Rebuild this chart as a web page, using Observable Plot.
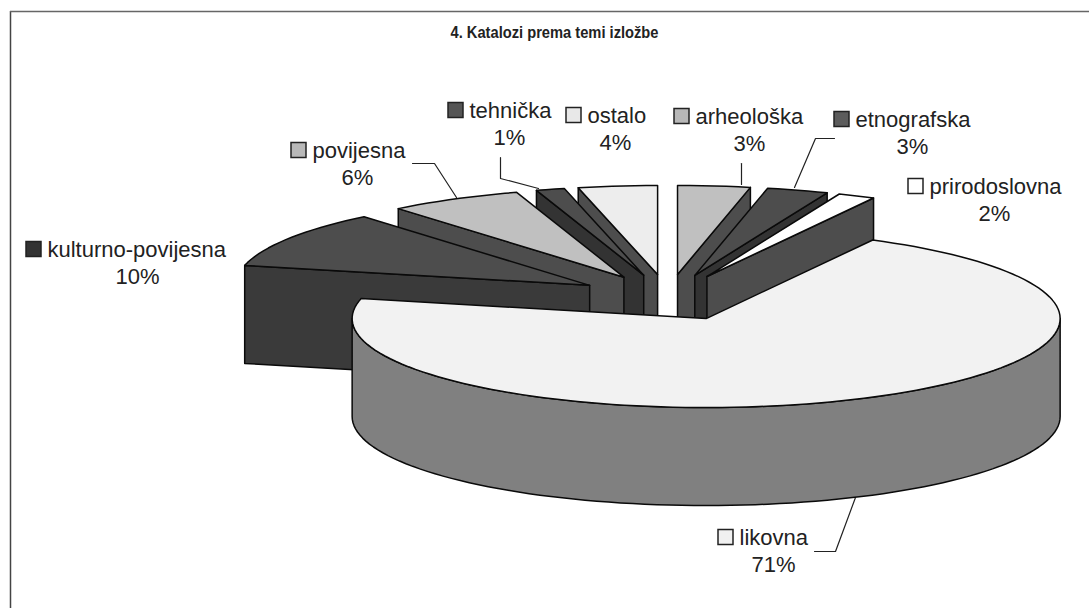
<!DOCTYPE html>
<html><head><meta charset="utf-8">
<style>html,body{margin:0;padding:0;background:#fff}svg{display:block}</style>
<script src="https://cdn.jsdelivr.net/npm/d3@7"></script>
<script src="https://cdn.jsdelivr.net/npm/@observablehq/plot@0.6"></script>
</head><body><script>
// Data, clockwise from 12 o'clock
const categories = ["arheološka","etnografska","prirodoslovna","likovna","kulturno-povijesna","povijesna","tehnička","ostalo"];
const shares = [3.3,2.8,1.7,70.8,10.4,6.1,1.3,3.6];
const chartTitle = "4. Katalozi prema temi izložbe";
// Styles
const topFills  = ["#c0c0c0","#4d4d4d","#ffffff","#f2f2f2","#4d4d4d","#c0c0c0","#4d4d4d","#ededed"];
const wallFills = ["#4d4d4d","#333333","#4d4d4d","#808080","#3a3a3a","#4d4d4d","#333333","#4d4d4d"];
const keyFills  = ["#b8b8b8","#5c5c5c","#ffffff","#f0f0f0","#333333","#b8b8b8","#555555","#e8e8e8"];
// Projection of the pie
const pie = {cx:667.5, cy:297, rx:354, ry:89, depth:98, explode:0.26};
// Label layout: key left, text baseline, percent centre
const keyLeft = [674,834,908,718,26,291,448,566];
const baseline = [123,126,193,544,256,157,117,122];
const pctCentre = [749,912,994,773,137,357,509,615];
const leaderRuns = [
  [[741,184],[741,163]],
  [[794,187],[815,138],[834,138]],
  [[855,497],[835,551],[814,551]],
  [[456,197],[434,163],[412,163]],
  [[538,188],[500,178],[500,157]]
];

const total = d3.sum(shares);
const rad = t => t*Math.PI/180;
const faces = [];
let acc = 0;
const slices = shares.map((v,i)=>{
  const t1 = acc/total*360; acc += v; const t2 = acc/total*360;
  const mid = rad((t1+t2)/2);
  const ax = pie.cx + pie.explode*pie.rx*Math.sin(mid);
  const ay = pie.cy - pie.explode*pie.ry*Math.cos(mid);
  const at = t => [ax+pie.rx*Math.sin(rad(t)), ay-pie.ry*Math.cos(rad(t))];
  return {i,t1,t2,ax,ay,at};
});
function addFace(id, pts, fill){ pts.forEach(p=>faces.push({id,x:p[0],y:p[1],fill})); }
function arcPts(s,a,b){ const n=Math.max(2,Math.ceil(Math.abs(b-a)/2)); return d3.range(n+1).map(k=>s.at(a+(b-a)*k/n)); }
const paint = [0,1,2,7,6,5,4,3];
paint.forEach(i=>{
  const s = slices[i], D = pie.depth, wf = wallFills[i];
  const mid = (s.t1+s.t2)/2;
  if (i===3) {
    const a = arcPts(s,90,270);
    addFace("w"+i,[...a,...a.slice().reverse().map(p=>[p[0],p[1]+D])],wf);
  } else {
    const t = mid<180 ? s.t2 : s.t1, o = s.at(t);
    addFace("w"+i,[[s.ax,s.ay],o,[o[0],o[1]+D],[s.ax,s.ay+D]],wf);
  }
  addFace("t"+i,[[s.ax,s.ay],...arcPts(s,s.t1,s.t2)],topFills[i]);
});
const labels = categories.map((c,i)=>({c,i,pct:Math.round(shares[i])+"%"}));
const leaders = leaderRuns.flatMap((r,k)=>r.map(p=>({k,x:p[0],y:p[1]})));
const font = "'Liberation Sans',Arial,sans-serif";
const keySize = 15;

const plot = Plot.plot({
  width:1089,height:608,margin:0,
  x:{domain:[0,1089],range:[0,1089],axis:null},
  y:{domain:[0,608],range:[0,608],axis:null},
  color:{type:"identity"},
  marks:[
    Plot.ruleX([10],{y1:11,y2:608,stroke:"#444",strokeWidth:1.5}),
    Plot.ruleY([11],{x1:10,x2:1089,stroke:"#666",strokeWidth:1.5}),
    Plot.line(leaders,{x:"x",y:"y",z:"k",stroke:"#222",strokeWidth:1.2,curve:"linear"}),
    Plot.line(faces,{x:"x",y:"y",z:"id",fill:"fill",stroke:"#0a0a0a",strokeWidth:1.5,strokeLinejoin:"round",curve:"linear-closed"}),
    Plot.rect(labels,{x1:d=>keyLeft[d.i],x2:d=>keyLeft[d.i]+keySize,y1:d=>baseline[d.i]-14.5,y2:d=>baseline[d.i]+0.5,fill:d=>keyFills[d.i],stroke:"#222",strokeWidth:1.5}),
    Plot.text(labels,{x:d=>keyLeft[d.i]+keySize+6,y:d=>baseline[d.i],text:"c",textAnchor:"start",lineAnchor:"bottom",fontSize:22,fontFamily:font,fill:"#222"}),
    Plot.text(labels,{x:d=>pctCentre[d.i],y:d=>baseline[d.i]+27.5,text:"pct",textAnchor:"middle",lineAnchor:"bottom",fontSize:22,fontFamily:font,fill:"#222"}),
    Plot.text([chartTitle],{x:()=>554,y:()=>37,text:d=>d,textAnchor:"middle",lineAnchor:"bottom",fontSize:17,fontWeight:"bold",fontFamily:font,fill:"#222"})
  ]
});
// The reference title is set in a condensed bold face: squeeze it to its measured width
plot.querySelectorAll("text").forEach(t=>{
  if (t.textContent===chartTitle){ t.setAttribute("textLength","208"); t.setAttribute("lengthAdjust","spacingAndGlyphs"); }
});
document.body.append(plot);
</script></body></html>
